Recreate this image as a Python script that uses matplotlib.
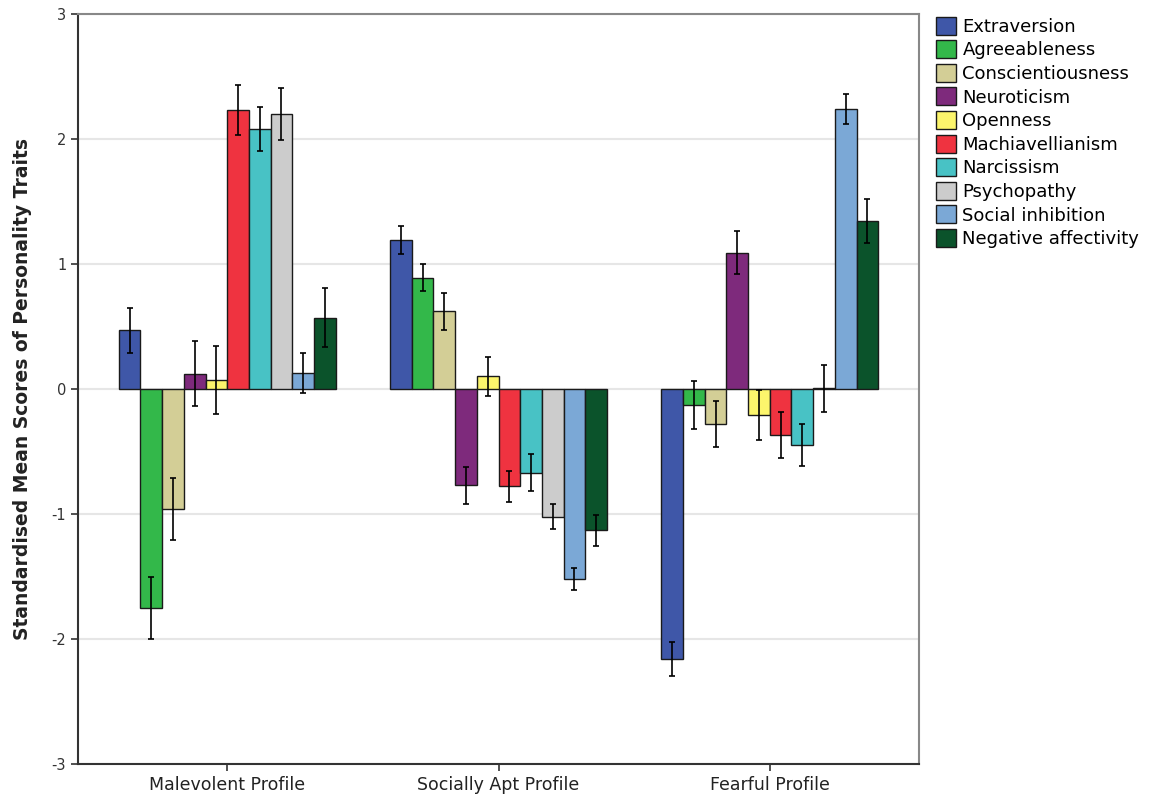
import matplotlib.pyplot as plt
import numpy as np

plt.rcParams["axes.unicode_minus"] = False

# profiles and traits
profiles = ["Malevolent Profile", "Socially Apt Profile", "Fearful Profile"]
traits = ["Extraversion", "Agreeableness", "Conscientiousness", "Neuroticism",
          "Openness", "Machiavellianism", "Narcissism", "Psychopathy",
          "Social inhibition", "Negative affectivity"]
colors = ["#3F57A8", "#33B84A", "#D3CE96", "#7E2A7C", "#FCF56C",
          "#EF3340", "#48C2C5", "#CCCCCC", "#7BA8D6", "#0B532B"]

# standardised means per profile (one list per profile, trait order as above)
malevolent = [0.47, -1.75, -0.96, 0.12, 0.07, 2.23, 2.08, 2.20, 0.13, 0.57]
socially_apt = [1.19, 0.89, 0.62, -0.77, 0.10, -0.78, -0.67, -1.02, -1.52, -1.13]
fearful = [-2.16, -0.13, -0.28, 1.09, -0.21, -0.37, -0.45, 0.005, 2.24, 1.34]

# error bar half-widths
malevolent_err = [0.18, 0.25, 0.25, 0.26, 0.27, 0.20, 0.175, 0.21, 0.16, 0.235]
socially_apt_err = [0.11, 0.11, 0.15, 0.147, 0.156, 0.123, 0.148, 0.10, 0.087, 0.123]
fearful_err = [0.133, 0.19, 0.185, 0.173, 0.20, 0.183, 0.167, 0.187, 0.122, 0.176]

means = np.array([malevolent, socially_apt, fearful])  # shape (3, 10)
errs = np.array([malevolent_err, socially_apt_err, fearful_err])

fig = plt.figure(figsize=(11.53, 8.05), dpi=100)
ax = fig.add_axes([78 / 1153, 41 / 805, 841 / 1153, 750 / 805])

x = np.arange(len(profiles))
group_w = 0.8
bw = group_w / len(traits)

for i, (trait, col) in enumerate(zip(traits, colors)):
    pos = x - group_w / 2 + bw * (i + 0.5)
    ax.bar(pos, means[:, i], width=bw, color=col, edgecolor="#1a1a1a",
           linewidth=1.0, label=trait, zorder=3)
    ax.errorbar(pos, means[:, i], yerr=errs[:, i], fmt="none", ecolor="black",
                elinewidth=1.2, capsize=2.5, capthick=1.2, zorder=4)

ax.set_xlim(-0.55, 2.55)
ax.set_ylim(-3, 3)
ax.set_yticks([-3, -2, -1, 0, 1, 2, 3])
ax.set_xticks(x)
ax.set_xticklabels(profiles, fontsize=12.5, color="#222222")
ax.tick_params(axis="y", labelsize=10.5, colors="#333333", length=5, width=1.2)
ax.tick_params(axis="x", length=5, width=1.2, colors="#333333")
for lab in ax.get_xticklabels():
    lab.set_color("#222222")

ax.yaxis.grid(True, color="#E6E6E6", linewidth=1.5, zorder=0)
ax.set_axisbelow(True)

for s in ["left", "bottom"]:
    ax.spines[s].set_color("#333333")
    ax.spines[s].set_linewidth(1.5)
for s in ["top", "right"]:
    ax.spines[s].set_color("#888888")
    ax.spines[s].set_linewidth(1.5)

ax.set_ylabel("Standardised Mean Scores of Personality Traits", fontsize=13.5,
              fontweight="bold", color="#222222", labelpad=14)

leg = ax.legend(loc="upper left", bbox_to_anchor=(1.012, 1.006), frameon=False,
                fontsize=13, handlelength=1.1, handleheight=1.15,
                handletextpad=0.35, labelspacing=0.25, borderaxespad=0.0)

plt.savefig("out.png", dpi=100)
